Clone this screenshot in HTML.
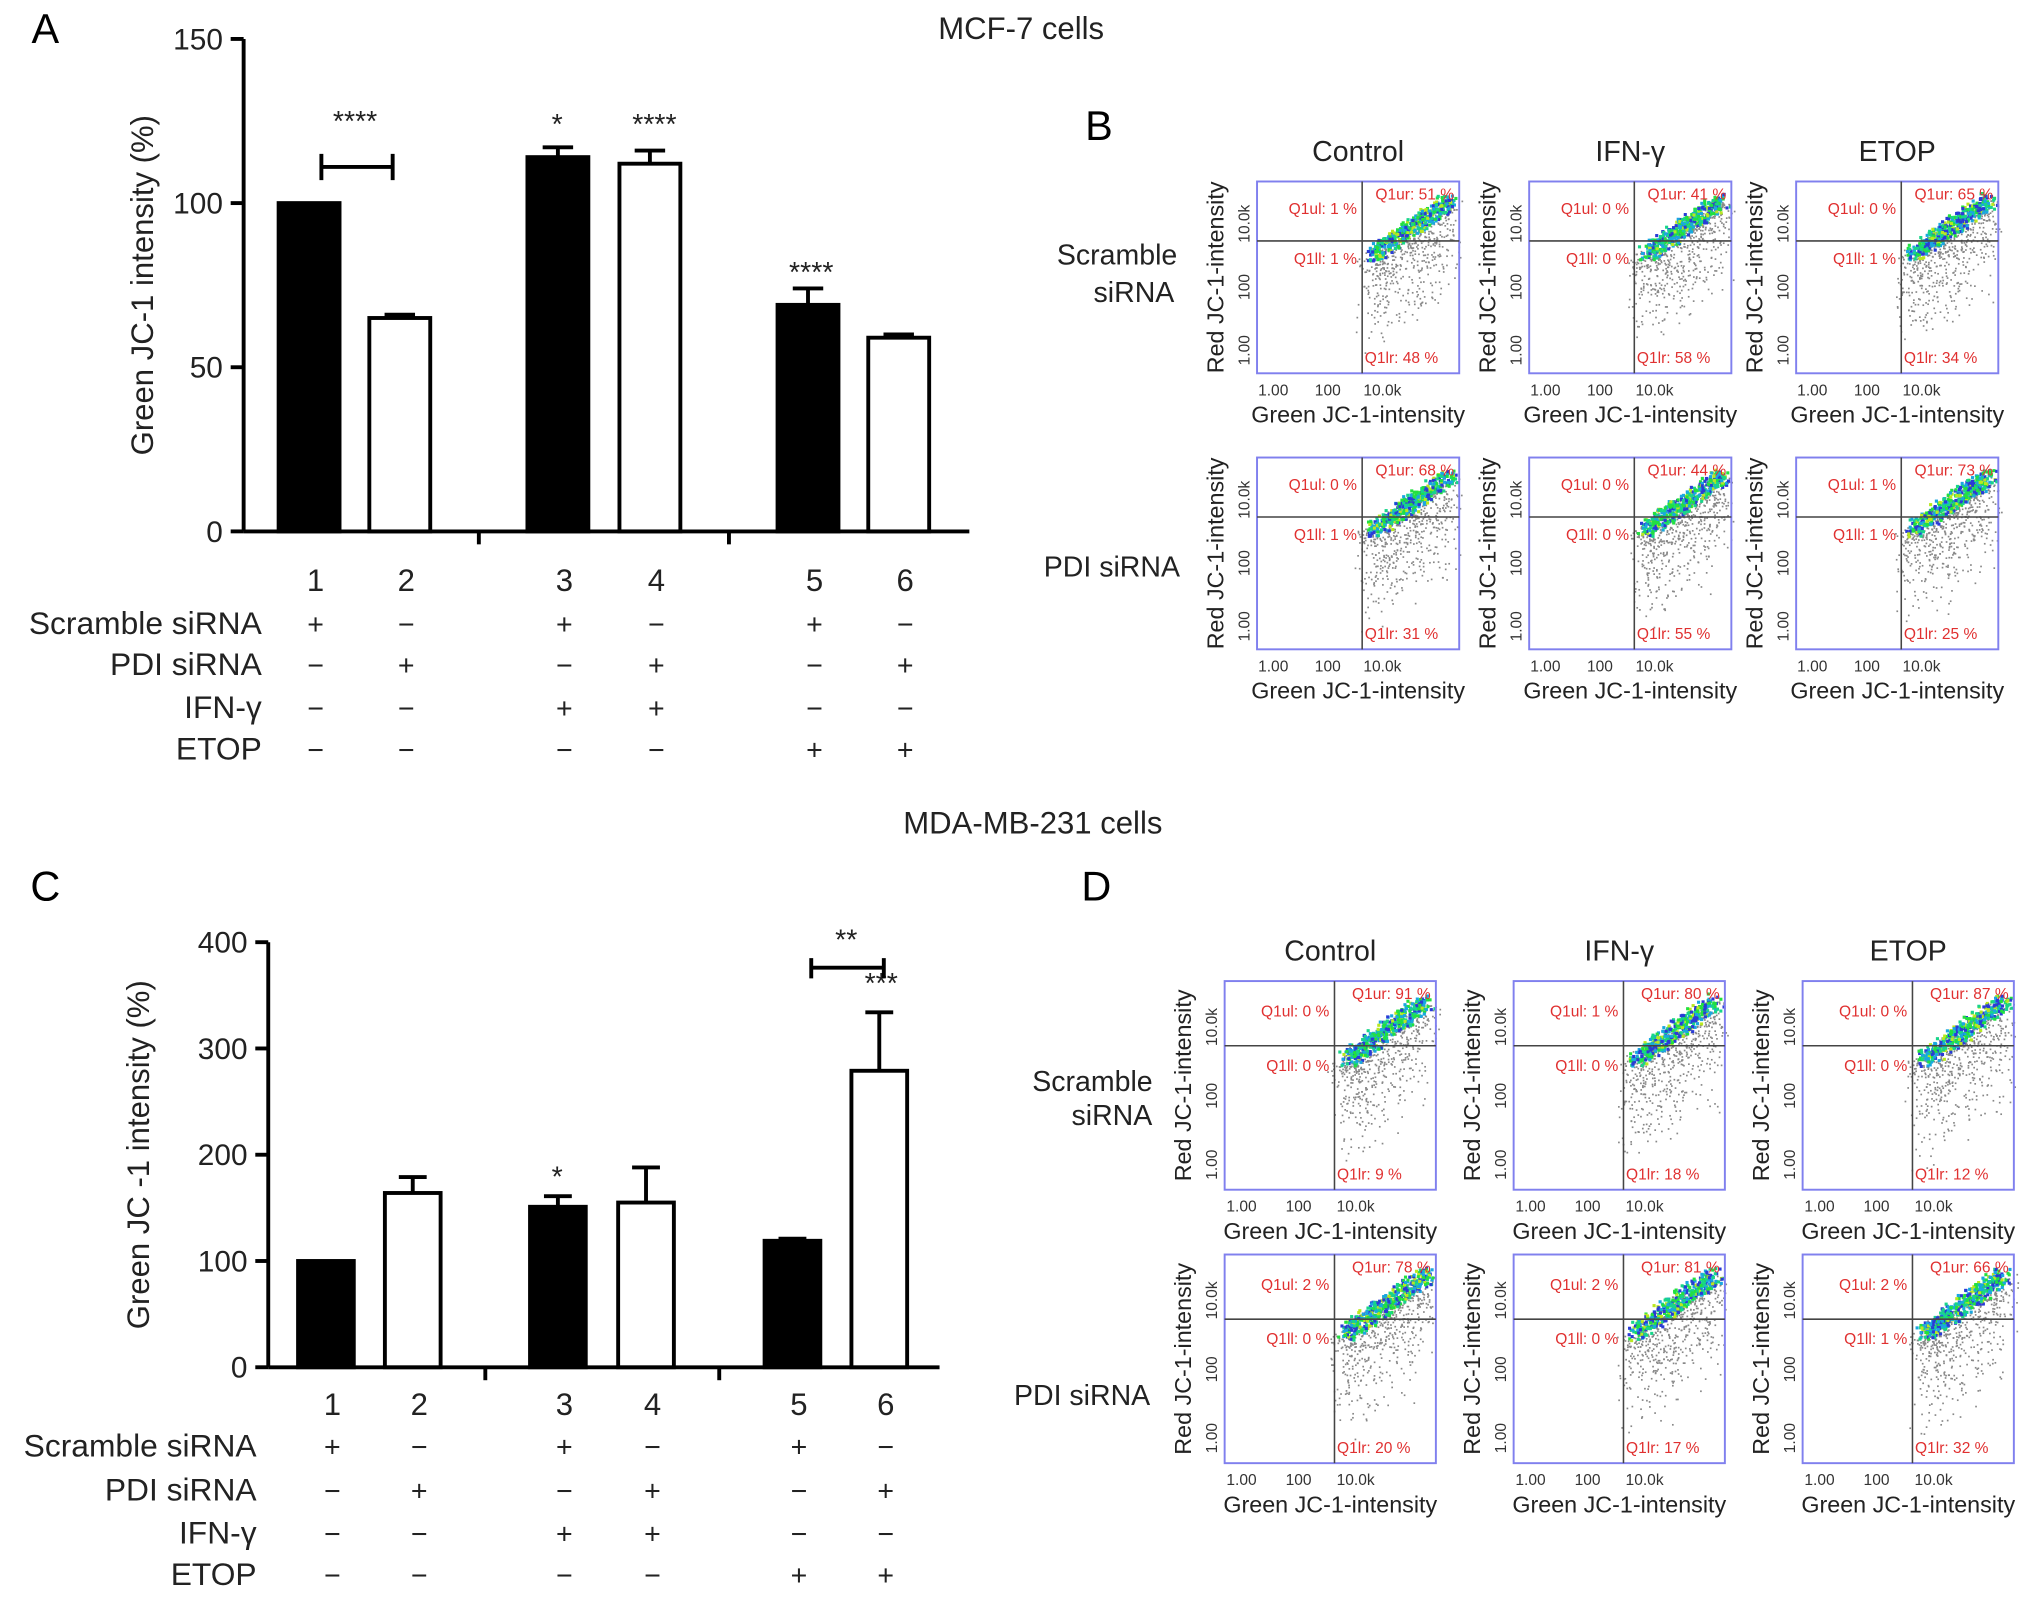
<!DOCTYPE html>
<html><head><meta charset="utf-8"><style>
html,body{margin:0;padding:0;background:#fff}
svg{display:block}
text{font-family:"Liberation Sans",sans-serif}
</style></head><body>
<svg id="fig" width="2032" height="1598" viewBox="0 0 1568 1233"></svg>
<script>
// ---- data ----
const aCategories=["1","2","3","4","5","6"];
const aValues=[100,65,114,112,69,59];
const aErrors=[0,1,3,4,5,1];
const aFill=["#000","#fff","#000","#fff","#000","#fff"];
const aTicks=[0,50,100,150];
const cCategories=["1","2","3","4","5","6"];
const cValues=[100,164,151,155,119,279];
const cErrors=[0,15,10,33,2,55];
const cTicks=[0,100,200,300,400];
const rowLabels=["Scramble siRNA","PDI siRNA","IFN-γ","ETOP"];
const signs=[["+","−","+","−","+","−"],["−","+","−","+","−","+"],["−","−","+","+","−","−"],["−","−","−","−","+","+"]];
const flowCols=["Control","IFN-γ","ETOP"];
const bQuads=[[[1,51,1,48],[0,41,0,58],[0,65,1,34]],[[0,68,1,31],[0,44,0,55],[1,73,1,25]]];
const dQuads=[[[0,91,0,9],[1,80,0,18],[0,87,0,12]],[[2,78,0,20],[2,81,0,17],[2,66,1,32]]];

const NS="http://www.w3.org/2000/svg";
const svg=document.getElementById('fig');
function el(tag,attrs,parent){const e=document.createElementNS(NS,tag);for(const k in attrs)e.setAttribute(k,attrs[k]);(parent||svg).appendChild(e);return e;}
function tx(x,y,s,size,anchor,parent,fill){const t=el('text',{x:x,y:y,'font-size':size,'text-anchor':anchor||'middle',fill:fill||'#222'},parent);t.textContent=s;return t;}

function barChart(o){
  const g=el('g',{});
  
  
  const yS=v=>o.y0-(v/o.max)*(o.y0-o.y1);
  el('line',{x1:o.ax,y1:o.y1,x2:o.ax,y2:o.y0,stroke:'#000','stroke-width':3},g);
  el('line',{x1:o.ax,y1:o.y0,x2:o.xEnd,y2:o.y0,stroke:'#000','stroke-width':3},g);
  o.ticks.forEach(t=>{
    el('line',{x1:o.ax-10,y1:yS(t),x2:o.ax,y2:yS(t),stroke:'#000','stroke-width':3},g);
    const l=tx(o.ax-16,yS(t)+8,String(t),23,'end',g);
    
    
  });
  const yt=tx(0,0,o.ytitle,24,'middle',g);
  yt.setAttribute('transform',`translate(${o.ax-o.ytOff},${(o.y0+o.y1)/2}) rotate(-90)`);
  
  
  o.values.forEach((v,i)=>{
    const x=o.xs[i],w=o.w;
    const r=el('rect',{x:x,y:yS(v),width:w,height:o.y0-yS(v),fill:o.fill[i],stroke:'#000','stroke-width':3},g);
    
    
    if(o.err[i]>0){
      const cx=x+w/2, top=yS(v+o.err[i]);
      el('line',{x1:cx,y1:yS(v),x2:cx,y2:top,stroke:'#000','stroke-width':3},g);
      el('line',{x1:cx-w/4,y1:top,x2:cx+w/4,y2:top,stroke:'#000','stroke-width':3},g);
    }
    const nl=tx(x+w/2+5,o.numY,o.cats[i],24,'middle',g);
    
    
    signs.forEach((row,ri)=>{
      const s=tx(x+w/2+5,o.rowY[ri]+8,row[i],22,'middle',g);
      
      
    });
  });
  [1,3].forEach(k=>{const xm=(o.xs[k]+o.w+o.xs[k+1])/2;el('line',{x1:xm,y1:o.y0,x2:xm,y2:o.y0+10,stroke:'#000','stroke-width':3},g);});
  rowLabels.forEach((s,ri)=>{
    const l=tx(o.labX,o.rowY[ri]+8,s,24.5,'end',g);
    
    
  });
  o.stars.forEach(st=>{const s=tx(st[0],yS(st[1]),st[2],22,'middle',g);});
  return {g,yS};
}

// Panel A
tx(35,33,'A',32,'middle',null,'#000');
tx(788,30,'MCF-7 cells',24,'middle');
const A=barChart({name:'chart-a',ax:188,y0:410,y1:30,xEnd:748,max:150,ticks:aTicks,ytitle:'Green JC-1 intensity (%)',ytOff:70,
  values:aValues,err:aErrors,fill:aFill,cats:aCategories,xs:[215,285,407,478,600,670],w:47,numY:456,
  rowY:[481,513,546,578],labX:202,
  stars:[[274,122,'****'],[430,121,'*'],[505,121,'****'],[626,76,'****']]});
el('path',{d:`M248 ${A.yS(115)} V${A.yS(107)} M248 ${A.yS(111)} H303 M303 ${A.yS(115)} V${A.yS(107)}`,stroke:'#000','stroke-width':3,fill:'none'});

// Panel C
tx(35,695,'C',32,'middle',null,'#000');
tx(797,643,'MDA-MB-231 cells',24,'middle');
const C=barChart({name:'chart-c',ax:207,y0:1055,y1:727,xEnd:725,max:400,ticks:cTicks,ytitle:'Green JC -1 intensity (%)',ytOff:92,
  values:cValues,err:cErrors,fill:aFill,cats:cCategories,xs:[230,297,409,477,590,657],w:43,numY:1092,
  rowY:[1116,1150,1183,1215],labX:198,
  stars:[[430,170,'*'],[680,352,'***'],[653,393,'**']]});
el('path',{d:`M626 ${C.yS(385)} V${C.yS(366)} M626 ${C.yS(376)} H682 M682 ${C.yS(385)} V${C.yS(366)}`,stroke:'#000','stroke-width':3,fill:'none'});

// flow plots
let seed=12345;function rnd(){seed=(seed*1103515245+12345)%2147483648;return seed/2147483648;}
const heat=["#2a3bd6","#1aa7e0","#18d58a","#22e040","#b9e820","#e52020"];
function flow(x,y,w,h,q,name){
  const g=el('g',{});
  
  
  const gx=x+w*0.52, gy=y+h*0.31;
  for(let i=0;i<600;i++){
    const t=rnd(); const px=gx+w*(0.02+t*0.42)+ (rnd()-0.5)*w*0.12;
    const py=gy+h*0.08-(t*h*0.3)+ (rnd()*rnd())*h*0.55;
    el('rect',{x:px,y:py,width:1.3,height:1.3,fill:'#888'},g);
  }
  for(let i=0;i<420;i++){
    const t=rnd(); const px=gx+w*(0.05+t*0.38)+(rnd()-0.5)*w*0.08;
    const py=gy+h*0.06-t*h*0.28+(rnd()-0.5)*h*0.08;
    const c=heat[Math.min(5,Math.floor(rnd()*4.6))];
    el('rect',{x:px,y:py,width:2.4,height:2.4,fill:c},g);
  }
  el('rect',{x:x,y:y,width:w,height:h,fill:'none',stroke:'#8080ee','stroke-width':1.5},g);
  el('line',{x1:x,y1:gy,x2:x+w,y2:gy,stroke:'#444','stroke-width':1.2},g);
  el('line',{x1:gx,y1:y,x2:gx,y2:y+h,stroke:'#444','stroke-width':1.2},g);
  const red='#e03030';
  tx(gx-4,y+h*0.17,'Q1ul: '+q[0]+' %',12,'end',g,red);
  tx(x+w-4,y+14,'Q1ur: '+q[1]+' %',12,'end',g,red);
  tx(gx-4,y+h*0.43,'Q1ll: '+q[2]+' %',12,'end',g,red);
  tx(gx+2,y+h-8,'Q1lr: '+q[3]+' %',12,'start',g,red);
  ['1.00','100','10.0k'].forEach((s,i)=>{tx(x+w*(0.08+i*0.27),y+h+17,s,12,'middle',g,'#333');});
  ['1.00','100','10.0k'].forEach((s,i)=>{const t=tx(0,0,s,12,'middle',g,'#333');t.setAttribute('transform',`translate(${x-6},${y+h*(0.88-i*0.33)}) rotate(-90)`);});
  tx(x+w/2,y+h+38,'Green JC-1-intensity',18,'middle',g);
  const yl=tx(0,0,'Red JC-1-intensity',18,'middle',g);
  yl.setAttribute('transform',`translate(${x-26},${y+h/2}) rotate(-90)`);
}
tx(848,108,'B',32,'middle',null,'#000');
tx(846,695,'D',32,'middle',null,'#000');
const bx=[970,1180,1386], by=[140,353], bw=156, bh=148;
flowCols.forEach((c,i)=>tx(bx[i]+bw/2,124,c,22,'middle'));
tx(862,204,'Scramble',22,'middle');tx(875,233,'siRNA',22,'middle');
tx(858,445,'PDI siRNA',22,'middle');
for(let r=0;r<2;r++)for(let c=0;c<3;c++)flow(bx[c],by[r],bw,bh,bQuads[r][c],'flow-plot-b-'+r+'-'+c);
const dx=[945,1168,1391], dy=[757,968], dw=163, dh=161;
flowCols.forEach((c,i)=>tx(dx[i]+dw/2,741,c,22,'middle'));
tx(843,842,'Scramble',22,'middle');tx(858,868,'siRNA',22,'middle');
tx(835,1084,'PDI siRNA',22,'middle');
for(let r=0;r<2;r++)for(let c=0;c<3;c++)flow(dx[c],dy[r],dw,dh,dQuads[r][c],'flow-plot-d-'+r+'-'+c);
</script>
</body></html>
